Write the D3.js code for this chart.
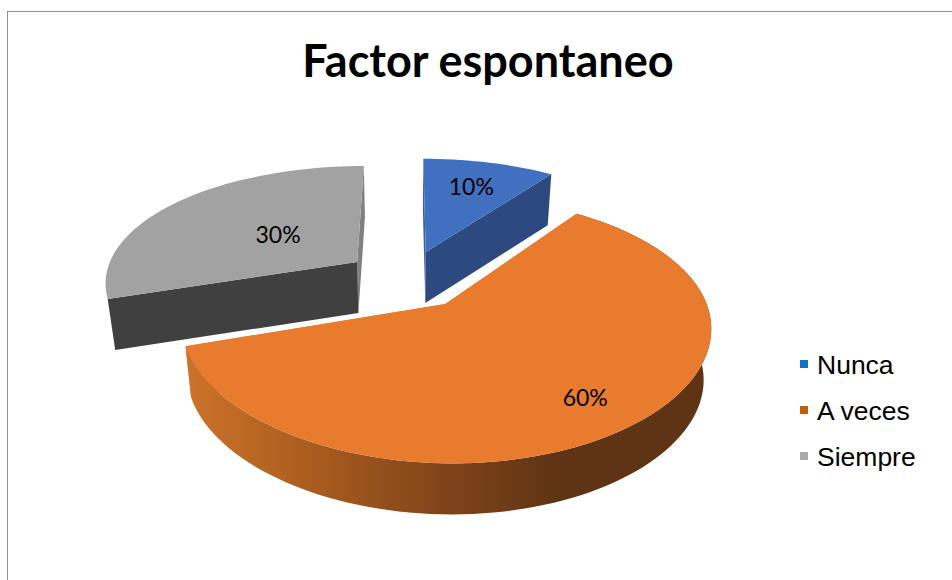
<!DOCTYPE html>
<html>
<head>
<meta charset="utf-8">
<script src="https://cdn.jsdelivr.net/npm/d3@7"></script>
<style>
html,body{margin:0;padding:0;background:#fff;}
svg{display:block;}
</style>
</head>
<body>
<div id="chart"></div>
<script>
const categories = ["Nunca", "A veces", "Siempre"];
const values = [10, 60, 30];
const title = "Factor espontaneo";

const faceColors = ["#4270c0", "#e97b2f", "#a2a2a2"];
const startCutColors = ["#3a62a8", "#e97b2f", "#404040"];
const endCutColors = ["#2c4a80", "#e97b2f", "#808080"];
const legendColors = ["#0b72c4", "#c55a11", "#a8a8a8"];
const labelRadii = [0.69, 0.79, 0.42];
const drawOrder = [2, 0, 1];

const width = 952, height = 580;
const centerX = 407, centerY = 279;
const radius = 253, explode = 63, tilt = 0.472, viewDistX = 1600, viewDistY = 1370;
const depth = 51, bottomScale = 0.975;

const svg = d3.select("#chart").append("svg").attr("width", width).attr("height", height);

svg.append("rect").attr("x", 7.5).attr("y", 11.5).attr("width", width + 20).attr("height", height + 20)
  .attr("fill", "#fff").attr("stroke", "#8e8e8e").attr("stroke-width", 1);

svg.append("text").attr("x", 488).attr("y", 77).attr("text-anchor", "middle")
  .attr("font-family", "Lato").attr("font-weight", 700).attr("font-size", 45)
  .attr("fill", "#000").text(title);

const defs = svg.append("defs");
const wallGrad = defs.append("linearGradient").attr("id", "wallGrad")
  .attr("gradientUnits", "userSpaceOnUse").attr("x1", 190).attr("x2", 700).attr("y1", 0).attr("y2", 0);
[[0, "#cb722b"], [0.2, "#b0601f"], [0.5, "#80441a"], [0.72, "#5f3414"], [1, "#5f3414"]]
  .forEach(([o, c]) => wallGrad.append("stop").attr("offset", o).attr("stop-color", c));

const pie = d3.pie().sort(null).value(d => d);
const arcs = pie(values);

function project(u, v, bottom) {
  const fx = viewDistX / (viewDistX + v), fy = viewDistY / (viewDistY + v);
  let x = u * fx, y = -v * tilt * fy;
  if (bottom) { x *= bottomScale; y += depth; }
  return [centerX + x, centerY + y];
}
function planePoint(a, mid, r) {
  const ex = explode * Math.sin(mid), ey = explode * Math.cos(mid);
  return [ex + r * Math.sin(a), ey + r * Math.cos(a)];
}
const line = d3.line();
const STEP = Math.PI / 90;
function samples(a0, a1) {
  const out = d3.range(a0, a1, STEP);
  out.push(a1);
  return out;
}

const slices = svg.append("g");
drawOrder.forEach(i => {
  const d = arcs[i];
  const mid = (d.startAngle + d.endAngle) / 2;
  const as = samples(d.startAngle, d.endAngle);
  const pt = (a, r, b) => { const p = planePoint(a, mid, r); return project(p[0], p[1], b); };
  const apexT = pt(0, 0, false), apexB = pt(0, 0, true);
  const g = slices.append("g");

  // cut faces
  [[d.endAngle, endCutColors[i]], [d.startAngle, startCutColors[i]]].forEach(([a, c]) => {
    const poly = [apexT, pt(a, radius, false), pt(a, radius, true), apexB];
    g.append("path").attr("d", line(poly) + "Z").attr("fill", c);
  });

  // outer wall: only the slice facing the viewer shows it
  if (Math.cos(mid) < 0) {
    const wall = as.map(a => pt(a, radius, false)).concat(as.slice().reverse().map(a => pt(a, radius, true)));
    g.append("path").attr("d", line(wall) + "Z").attr("fill", "url(#wallGrad)");
  }

  // top face
  const top = [apexT].concat(as.map(a => pt(a, radius, false)));
  g.append("path").attr("d", line(top) + "Z").attr("fill", faceColors[i]);
});

svg.append("g").selectAll("text").data(arcs).join("text")
  .attr("text-anchor", "middle")
  .attr("font-family", "Lato").attr("font-size", 23).attr("fill", "#000")
  .attr("x", (d, i) => { const m = (d.startAngle + d.endAngle) / 2; const p = planePoint(m, m, radius * labelRadii[i]); return project(p[0], p[1], false)[0]; })
  .attr("y", (d, i) => { const m = (d.startAngle + d.endAngle) / 2; const p = planePoint(m, m, radius * labelRadii[i]); return project(p[0], p[1], false)[1] + 8; })
  .text(d => d.value + "%");

const legendY = d3.scalePoint().domain(categories).range([364, 456]);
const legend = svg.append("g");
legend.selectAll("rect").data(categories).join("rect")
  .attr("x", 800).attr("y", d => legendY(d) - 4).attr("width", 8).attr("height", 8)
  .attr("fill", (d, i) => legendColors[i]);
legend.selectAll("text").data(categories).join("text")
  .attr("x", 817).attr("y", d => legendY(d) + 10)
  .attr("font-family", "Liberation Sans").attr("font-size", 26.5).attr("fill", "#000")
  .text(d => d);
</script>
</body>
</html>
